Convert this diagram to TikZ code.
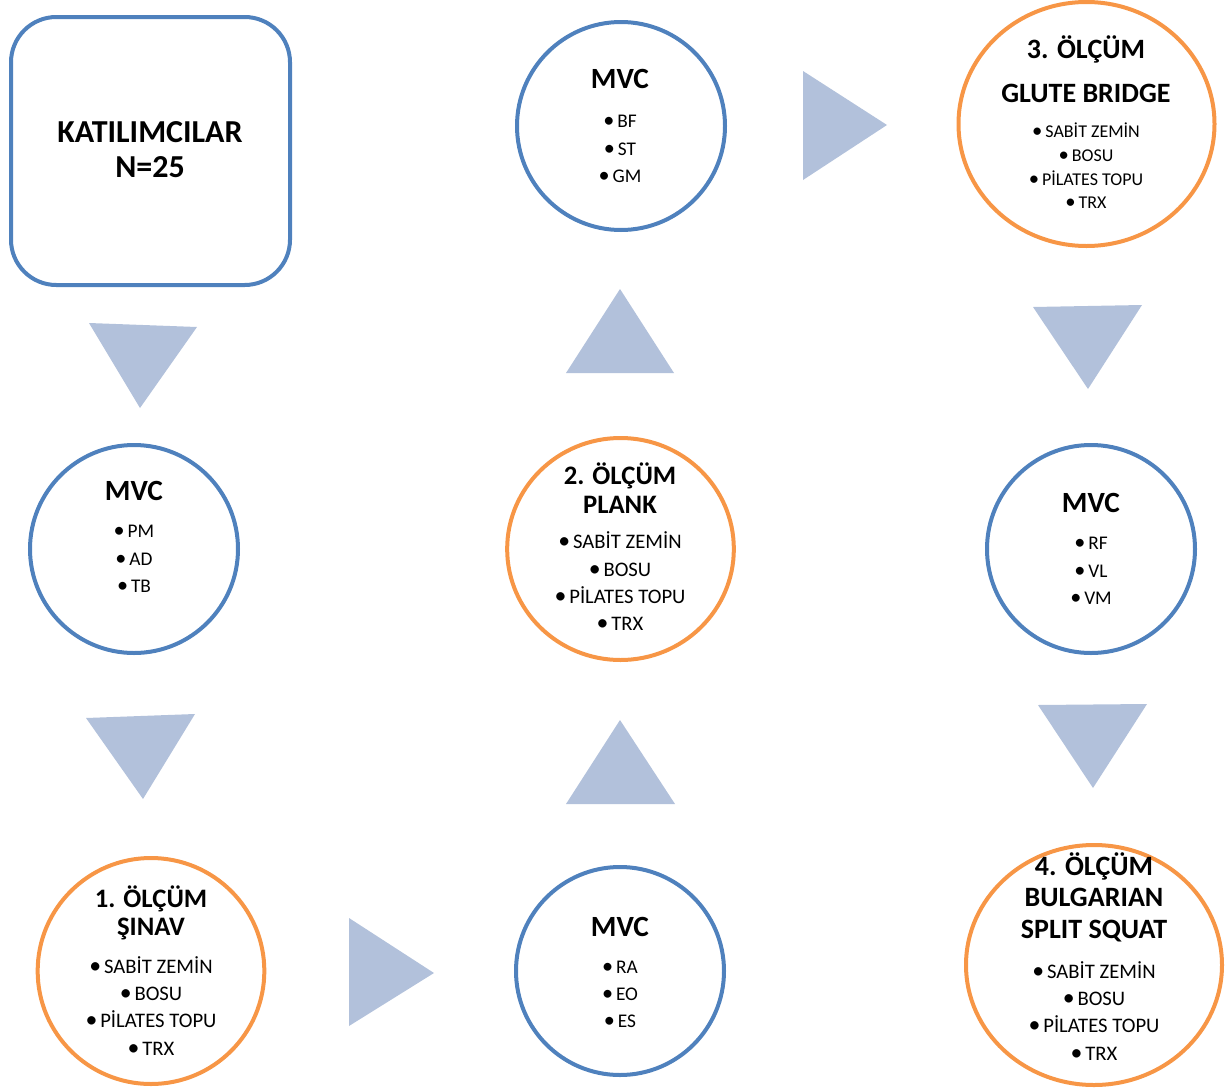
\documentclass[tikz,border=0pt]{standalone}
\usepackage{fontspec}
\setmainfont{Carlito}
\usetikzlibrary{shapes.geometric}
\definecolor{cblue}{RGB}{79,129,189}
\definecolor{corange}{RGB}{247,150,70}
\definecolor{ctri}{RGB}{178,193,219}
\newcommand{\bul}{{\fontsize{1.15em}{1.15em}\selectfont\raisebox{-0.3pt}{•}}\hspace{2.2pt}}
\tikzset{
  bluering/.style={ellipse, draw=cblue, line width=3pt, inner sep=0pt},
  orangering/.style={ellipse, draw=corange, line width=3pt, inner sep=0pt},
  ttl/.style={anchor=base, inner sep=0pt, font=\bfseries\fontsize{21}{21}\selectfont},
  mvct/.style={anchor=base, inner sep=0pt, font=\bfseries\fontsize{22}{22}\selectfont},
  ttlsm/.style={anchor=base, inner sep=0pt, font=\bfseries\fontsize{20}{20}\selectfont},
  itm/.style={anchor=base, inner sep=0pt, font=\fontsize{15.5}{15.5}\selectfont},
  itmm/.style={anchor=base, inner sep=0pt, font=\fontsize{14.5}{14.5}\selectfont},
  itms/.style={anchor=base, inner sep=0pt, font=\fontsize{13.5}{13.5}\selectfont},
  tri/.style={fill=ctri, draw=none},
}
\begin{document}
\begin{tikzpicture}[x=0.75pt,y=-0.75pt]
\useasboundingbox (0,0) rectangle (1225,1089);
% start box
\node[draw=cblue, line width=3pt, rounded corners=34pt, minimum width=209.25pt, minimum height=201pt, inner sep=0pt] (start) at (150.5,151) {};
\node[anchor=base, inner sep=0pt, font=\bfseries\fontsize{24}{24}\selectfont] (s1) at (150,142) {KATILIMCILAR};
\node[anchor=base, inner sep=0pt, font=\bfseries\fontsize{24}{24}\selectfont] (s2) at (150,177) {N=25};

% MVC left
\node[bluering, minimum width=156pt, minimum height=156pt] (mvcA) at (134,549) {};
\node[mvct] (a0) at (134,500) {MVC};
\node[itmm] (a1) at (134,537) {\bul PM};
\node[itmm] (a2) at (134,565) {\bul AD};
\node[itmm] (a3) at (134,592) {\bul TB};

% 1. olcum
\node[orangering, minimum width=170pt, minimum height=169.5pt] (o1) at (151,971) {};
\node[ttlsm] (b0) at (151,907) {1. ÖLÇÜM};
\node[ttlsm] (b1) at (151,935) {ŞINAV};
\node[itm] (b2) at (151,973) {\bul SABİT ZEMİN};
\node[itm] (b3) at (151,1000) {\bul BOSU};
\node[itm] (b4) at (151,1027) {\bul PİLATES TOPU};
\node[itm] (b5) at (151,1055) {\bul TRX};

% MVC bottom
\node[bluering, minimum width=156pt, minimum height=156pt] (mvcB) at (620,971) {};
\node[mvct] (c0) at (620,936) {MVC};
\node[itmm] (c1) at (620,973) {\bul RA};
\node[itmm] (c2) at (620,1000) {\bul EO};
\node[itmm] (c3) at (620,1027) {\bul ES};

% 2. olcum
\node[orangering, minimum width=170pt, minimum height=166.5pt] (o2) at (620.5,549) {};
\node[ttlsm] (d0) at (620,484) {2. ÖLÇÜM};
\node[ttlsm] (d1) at (620,513) {PLANK};
\node[itm] (d2) at (620,548) {\bul SABİT ZEMİN};
\node[itm] (d3) at (620,576) {\bul BOSU};
\node[itm] (d4) at (620,603) {\bul PİLATES TOPU};
\node[itm] (d5) at (620,630) {\bul TRX};

% MVC top
\node[bluering, minimum width=156pt, minimum height=156pt] (mvcC) at (621,126) {};
\node[mvct] (e0) at (620,88) {MVC};
\node[itmm] (e1) at (620,127) {\bul BF};
\node[itmm] (e2) at (620,155) {\bul ST};
\node[itmm] (e3) at (620,182) {\bul GM};

% 3. olcum
\node[orangering, minimum width=192pt, minimum height=183pt] (o3) at (1086.5,124) {};
\node[ttl] (f0) at (1086,58) {3. ÖLÇÜM};
\node[ttl] (f1) at (1086,102) {GLUTE BRIDGE};
\node[itms] (f2) at (1086,137) {\bul SABİT ZEMİN};
\node[itms] (f3) at (1086,161.5) {\bul BOSU};
\node[itms] (f4) at (1086,185) {\bul PİLATES TOPU};
\node[itms] (f5) at (1086,208) {\bul TRX};

% MVC right
\node[bluering, minimum width=156pt, minimum height=156pt] (mvcD) at (1091,549) {};
\node[mvct] (g0) at (1091,512) {MVC};
\node[itmm] (g1) at (1091,549) {\bul RF};
\node[itmm] (g2) at (1091,577) {\bul VL};
\node[itmm] (g3) at (1091,604) {\bul VM};

% 4. olcum
\node[orangering, minimum width=192pt, minimum height=180pt] (o4) at (1094,965) {};
\node[ttl] (h0) at (1094,875) {4. ÖLÇÜM};
\node[ttl] (h1) at (1094,906) {BULGARIAN};
\node[ttl] (h2) at (1094,938) {SPLIT SQUAT};
\node[itm] (h3) at (1094,978) {\bul SABİT ZEMİN};
\node[itm] (h4) at (1094,1005) {\bul BOSU};
\node[itm] (h5) at (1094,1032) {\bul PİLATES TOPU};
\node[itm] (h6) at (1094,1060) {\bul TRX};

% triangle arrows
\fill[tri] (89,323) -- (197,327) -- (140,408) -- cycle;
\fill[tri] (86,718) -- (195,714) -- (143,799) -- cycle;
\fill[tri] (349,918) -- (349,1026) -- (434,973) -- cycle;
\fill[tri] (566,804) -- (675,804) -- (620,720) -- cycle;
\fill[tri] (566,373) -- (674,373) -- (620,289) -- cycle;
\fill[tri] (803,71) -- (803,180) -- (887,125) -- cycle;
\fill[tri] (1033,307) -- (1142,305) -- (1088,389) -- cycle;
\fill[tri] (1038,705) -- (1147,704) -- (1093,788) -- cycle;
\end{tikzpicture}
\end{document}
